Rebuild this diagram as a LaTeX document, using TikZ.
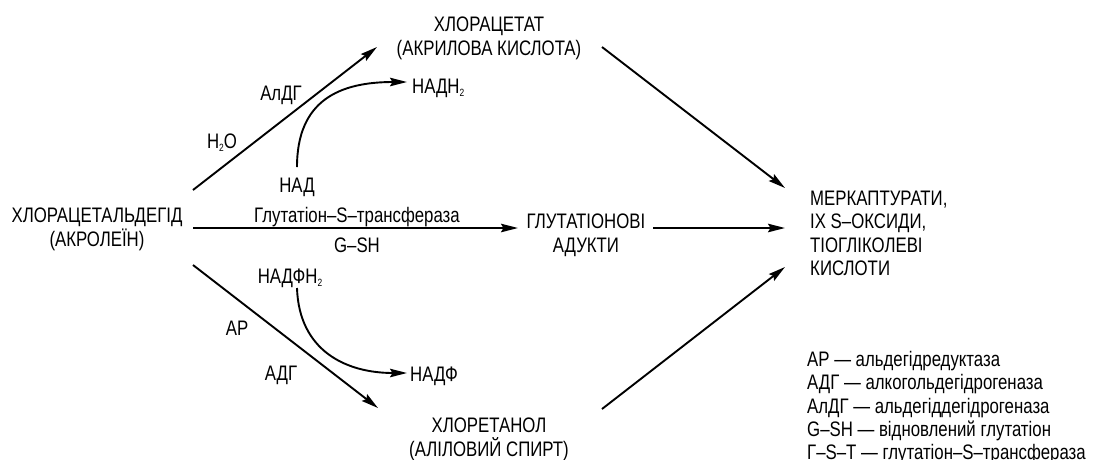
\documentclass[tikz,border=0pt]{standalone}
\usepackage{fontspec}
\setmainfont{Liberation Sans}[FakeStretch=0.8]
\usetikzlibrary{arrows.meta}
\newcommand\lowtwo{\raisebox{-0.35ex}{\fontsize{10.5}{10.5}\selectfont 2}}
\begin{document}
\begin{tikzpicture}[x=1pt,y=-1pt,
  txt/.style={inner sep=0pt,anchor=base,font=\fontsize{21}{23.3}\selectfont},
  block/.style={txt,align=center},
  lblock/.style={txt,align=left,anchor=north west},
  flow/.style={line width=1.9pt,-{Stealth[length=17pt,width=8.5pt,inset=2.5pt]}},
  curvedflow/.style={line width=1.9pt,-{Stealth[length=17pt,width=8.5pt,inset=2.5pt]}}]
\useasboundingbox (0,0) rectangle (1104,459);

% substances (base anchor sits on the last line of each block)
\node[block] (src) at (97,246) {ХЛОРАЦЕТАЛЬДЕГІД\\(АКРОЛЕЇН)};
\node[block] (acet) at (489,55) {ХЛОРАЦЕТАТ\\(АКРИЛОВА КИСЛОТА)};
\node[block] (glut) at (586,252) {ГЛУТАТІОНОВІ\\АДУКТИ};
\node[block] (etan) at (489,456) {ХЛОРЕТАНОЛ\\(АЛІЛОВИЙ СПИРТ)};
\node[lblock] (merc) at (810,191) {МЕРКАПТУРАТИ,\\ІХ S–ОКСИДИ,\\ТІОГЛІКОЛЕВІ\\КИСЛОТИ};

% reaction labels
\node[txt] (ald) at (281,100) {АлДГ};
\node[txt] (h2o) at (222,148) {H\lowtwo O};
\node[txt] (nad) at (297,192) {НАД};
\node[txt,anchor=base west] (nadh) at (412,93) {НАДН\lowtwo};
\node[txt] (gst) at (357,222) {Глутатіон–S–трансфераза};
\node[txt] (gsh) at (357,252) {G–SH};
\node[txt] (nadph) at (290,283) {НАДФН\lowtwo};
\node[txt] (ar) at (237,335) {АР};
\node[txt] (adg) at (281,380) {АДГ};
\node[txt,anchor=base west] (nadp) at (410,381) {НАДФ};

% legend
\node[lblock] (legend) at (807,351) {АР — альдегідредуктаза\\АДГ — алкогольдегідрогеназа\\АлДГ — альдегіддегідрогеназа\\G–SH — відновлений глутатіон\\Г–S–Т — глутатіон–S–трансфераза};

% connector ends
\coordinate (a1s) at (193,190); \coordinate (a1e) at (377,47);
\coordinate (a2s) at (602,47);  \coordinate (a2e) at (785,188);
\coordinate (a3s) at (193,228); \coordinate (a3e) at (518,228);
\coordinate (a4s) at (653,228); \coordinate (a4e) at (785,228);
\coordinate (a5s) at (193,265); \coordinate (a5e) at (378,408);
\coordinate (a6s) at (602,409); \coordinate (a6e) at (785,267);
\coordinate (c1s) at (297,167); \coordinate (c1e) at (407,82);
\coordinate (c2s) at (297,288); \coordinate (c2e) at (407,373);

\draw[flow] (a1s) -- (a1e);
\draw[flow] (a2s) -- (a2e);
\draw[flow] (a3s) -- (a3e);
\draw[flow] (a4s) -- (a4e);
\draw[flow] (a5s) -- (a5e);
\draw[flow] (a6s) -- (a6e);
\draw[curvedflow] (c1s) .. controls (297,100) and (340,82) .. (c1e);
\draw[curvedflow] (c2s) .. controls (299,350) and (345,373) .. (c2e);
\end{tikzpicture}
\end{document}
